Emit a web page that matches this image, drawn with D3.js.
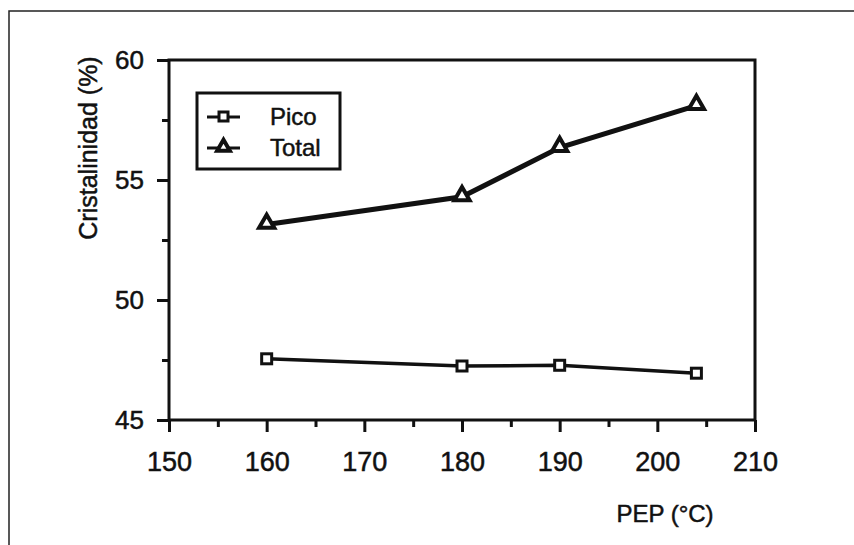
<!DOCTYPE html>
<meta charset="utf-8">
<style>
    body { margin: 0; background: #fff; }
    text { font-family: "Liberation Sans", Arial, sans-serif; fill: #111; stroke: #111; stroke-width: 0.5px; }
    .axis path, .axis line { stroke: #111; }
</style>
<script src="https://d3js.org/d3.v7.min.js"></script>
<svg width="854" height="545"></svg>
<script>
    // data
    let temps = [160, 180, 190, 204];
    let pico = [47.55, 47.25, 47.28, 46.95];
    let total = [53.15, 54.3, 56.35, 58.1];
    let xTicks = [150, 160, 170, 180, 190, 200, 210];
    let yTicks = [45, 50, 55, 60];

    let svg = d3.select("svg");
    let pLeft = 169, pRight = 755, pTop = 60, pBottom = 420;

    let x = d3.scaleLinear().domain([150, 210]).range([pLeft, pRight]);
    let y = d3.scaleLinear().domain([45, 60]).range([pBottom, pTop]);

    // outer frame of the scanned figure
    svg.append("rect")
        .attr("x", 9).attr("y", 11)
        .attr("width", 860).attr("height", 540)
        .attr("fill", "none").attr("stroke", "#222").attr("stroke-width", 1.5);

    // minor ticks
    svg.append("g")
        .attr("class", "axis")
        .attr("transform", "translate(0," + pBottom + ")")
        .call(d3.axisBottom(x).tickValues(d3.range(155, 210, 10)).tickSize(7).tickFormat(""))
        .call(g => g.select(".domain").remove())
        .selectAll("line").attr("stroke-width", 3);
    svg.append("g")
        .attr("class", "axis")
        .attr("transform", "translate(" + pLeft + ",0)")
        .call(d3.axisLeft(y).tickValues([47.5, 52.5, 57.5]).tickSize(7).tickFormat(""))
        .call(g => g.select(".domain").remove())
        .selectAll("line").attr("stroke-width", 3);

    // major ticks + labels
    let xAxis = svg.append("g")
        .attr("class", "axis")
        .attr("transform", "translate(0," + pBottom + ")")
        .call(d3.axisBottom(x).tickValues(xTicks).tickSize(12).tickPadding(20).tickSizeOuter(0));
    xAxis.select(".domain").remove();
    xAxis.selectAll("line").attr("stroke-width", 3);
    xAxis.selectAll("text").style("font-size", "27px").attr("dy", "0.71em").attr("fill", "#111");

    let yAxis = svg.append("g")
        .attr("class", "axis")
        .attr("transform", "translate(" + pLeft + ",0)")
        .call(d3.axisLeft(y).tickValues(yTicks).tickSize(12).tickPadding(13).tickSizeOuter(0));
    yAxis.select(".domain").remove();
    yAxis.selectAll("line").attr("stroke-width", 3);
    yAxis.selectAll("text").style("font-size", "26px").attr("fill", "#111");

    // plot box
    svg.append("rect")
        .attr("x", pLeft).attr("y", pTop)
        .attr("width", pRight - pLeft).attr("height", pBottom - pTop)
        .attr("fill", "none").attr("stroke", "#111").attr("stroke-width", 3);

    // axis titles
    svg.append("text")
        .attr("transform", "translate(97,148) rotate(-90)")
        .attr("text-anchor", "middle")
        .style("font-size", "25px")
        .text("Cristalinidad (%)");
    svg.append("text")
        .attr("x", 665).attr("y", 522)
        .attr("text-anchor", "middle")
        .style("font-size", "24px")
        .text("PEP (°C)");

    // series
    let line = d3.line().x(d => x(d[0])).y(d => y(d[1]));
    let picoPts = temps.map((t, i) => [t, pico[i]]);
    let totalPts = temps.map((t, i) => [t, total[i]]);

    svg.append("path").datum(totalPts)
        .attr("d", line).attr("fill", "none")
        .attr("stroke", "#111").attr("stroke-width", 5);
    svg.append("path").datum(picoPts)
        .attr("d", line).attr("fill", "none")
        .attr("stroke", "#111").attr("stroke-width", 3.5);

    let tri = d3.symbol().type(d3.symbolTriangle).size(100);
    svg.selectAll(".tri").data(totalPts).enter().append("path")
        .attr("class", "tri")
        .attr("transform", d => "translate(" + x(d[0]) + "," + (y(d[1]) - 1) + ")")
        .attr("d", tri)
        .attr("fill", "#fff").attr("stroke", "#111").attr("stroke-width", 4);

    svg.selectAll(".sq").data(picoPts).enter().append("rect")
        .attr("class", "sq")
        .attr("x", d => x(d[0]) - 5).attr("y", d => y(d[1]) - 5)
        .attr("width", 10).attr("height", 10)
        .attr("fill", "#fff").attr("stroke", "#111").attr("stroke-width", 3);

    // legend
    let lg = svg.append("g");
    lg.append("rect")
        .attr("x", 197).attr("y", 93).attr("width", 143).attr("height", 76)
        .attr("fill", "#fff").attr("stroke", "#111").attr("stroke-width", 3);
    let names = ["Pico", "Total"];
    names.forEach((n, i) => {
        let cy = 117 + i * 31;
        lg.append("line")
            .attr("x1", 207).attr("x2", 240).attr("y1", cy).attr("y2", cy)
            .attr("stroke", "#111").attr("stroke-width", 3);
        if (i == 0) {
            lg.append("rect")
                .attr("x", 219).attr("y", cy - 5).attr("width", 9).attr("height", 9)
                .attr("fill", "#fff").attr("stroke", "#111").attr("stroke-width", 3);
        } else {
            lg.append("path")
                .attr("transform", "translate(223.5," + (cy - 1) + ")")
                .attr("d", d3.symbol().type(d3.symbolTriangle).size(70))
                .attr("fill", "#fff").attr("stroke", "#111").attr("stroke-width", 4);
        }
        lg.append("text")
            .attr("x", 270).attr("y", cy + 8)
            .style("font-size", "24px")
            .text(n);
    });
</script>
